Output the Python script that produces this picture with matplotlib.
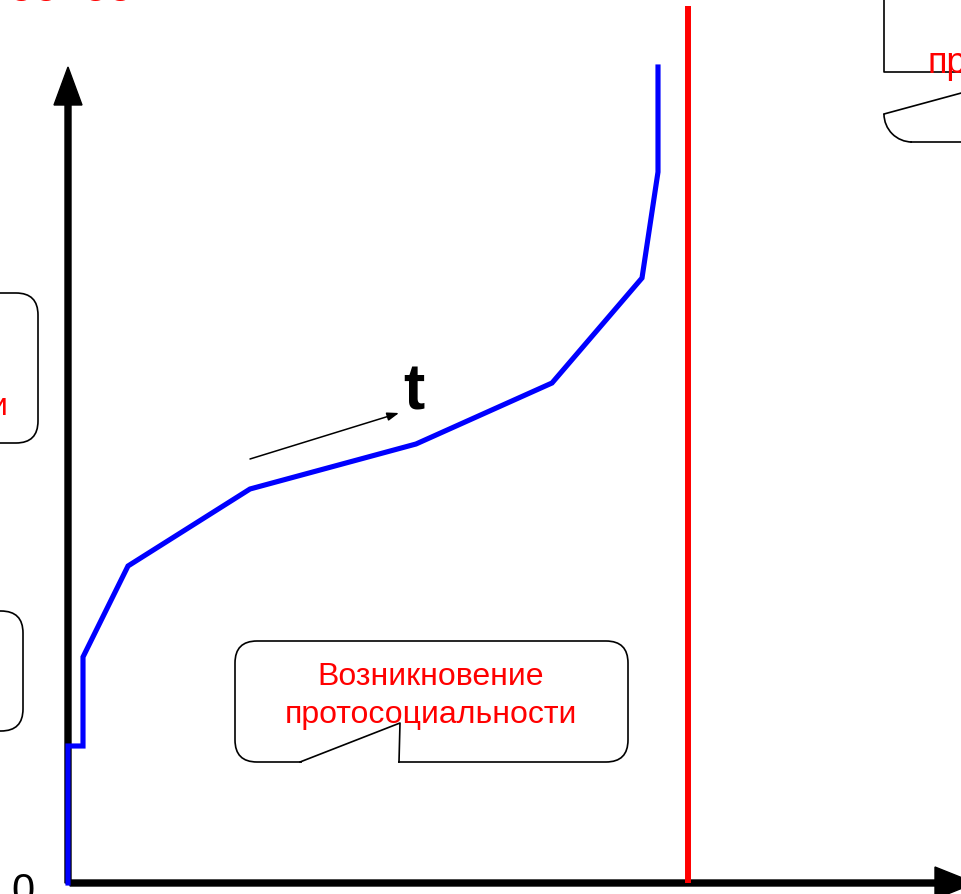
"""Схема: возникновение протосоциальности (воспроизведение слайда)."""

import matplotlib.pyplot as plt
from matplotlib.patches import FancyBboxPatch, Arc

plt.rcParams['font.family'] = ['Liberation Sans', 'DejaVu Sans']

# кривая развития (в пикселях от начала координат: вправо / вверх)
curve_t = [0, 0, 15, 15, 60, 182, 348, 484, 574, 590, 590]
curve_level = [0, 137, 137, 226, 317, 394, 439, 500, 605, 711, 816]

# граница (красная вертикаль)
border_t = 620
border_top = 877

box_lines = ["Возникновение", "протосоциальности"]
arrow_label = "t"
origin_label = "0"

W, H = 961, 894
OX, OY = 68, 883


def p(x, y):
    """Пиксели картинки -> координаты осей."""
    return x - OX, OY - y


def main():
    fig = plt.figure(figsize=(W / 100, H / 100), dpi=100)
    ax = fig.add_axes([0, 0, 1, 1])
    ax.set_xlim(-OX, W - OX)
    ax.set_ylim(OY - H, OY)
    ax.axis("off")

    # оси
    ax.arrow(0, 0, 0, 816, width=6, head_width=28, head_length=38,
             length_includes_head=True, color="black", zorder=2)
    ax.arrow(2, 0, 905, 0, width=6, head_width=32, head_length=40,
             length_includes_head=True, color="black", zorder=2)
    ax.text(*p(23, 903), origin_label, fontsize=30, ha="center", va="baseline")

    # кривая
    ax.plot(curve_t, curve_level, color="blue", lw=3.7, zorder=3,
            solid_joinstyle="miter")

    # граница
    ax.plot([border_t, border_t], [0, border_top], color="red", lw=4.3,
            solid_capstyle="butt", zorder=3)

    # стрелка времени
    ax.annotate("", xy=p(399, 413), xytext=p(250, 459),
                arrowprops=dict(arrowstyle="-|>,head_length=0.7,head_width=0.25",
                                color="black", lw=1.1, shrinkA=0, shrinkB=0))
    ax.text(*p(414, 410), arrow_label, fontsize=46, fontweight="bold",
            ha="center", va="baseline")

    # выноска внизу
    x0, y0 = p(235, 762)
    box = FancyBboxPatch((x0, y0), 393, 121,
                         boxstyle="round,pad=0,rounding_size=22",
                         fc="white", ec="black", lw=1.2, zorder=4)
    ax.add_patch(box)
    ax.plot(*zip(p(302, 762), p(398, 762)), color="white", lw=3,
            solid_capstyle="butt", zorder=5)
    tail = [p(300, 762), p(400, 723), p(399, 762)]
    ax.plot(*zip(*tail), color="black", lw=1.2, zorder=6)
    ax.text(*p(431, 685), box_lines[0], fontsize=23, color="red",
            ha="center", va="baseline", zorder=7)
    ax.text(*p(431, 723), box_lines[1], fontsize=23, color="red",
            ha="center", va="baseline", zorder=7)

    # обрезанные выноски слева
    bx, by = p(-60, 443)
    ax.add_patch(FancyBboxPatch((bx, by), 98, 150,
                                boxstyle="round,pad=0,rounding_size=22",
                                fc="none", ec="black", lw=1.2))
    ax.text(*p(8, 415), "и", fontsize=23, color="red", ha="right", va="baseline")
    bx, by = p(-60, 731)
    ax.add_patch(FancyBboxPatch((bx, by), 83, 120,
                                boxstyle="round,pad=0,rounding_size=22",
                                fc="none", ec="black", lw=1.2))

    # обрезанные элементы справа вверху
    ax.plot(*zip(p(884, -5), p(884, 72), p(965, 72)), color="black", lw=1.2)
    ax.text(*p(928, 73), "пр", fontsize=26, color="red", ha="left",
            va="baseline", zorder=7)
    ax.plot(*zip(p(965, 92), p(884, 114)), color="black", lw=1.2)
    cx, cy = p(912, 114)
    ax.add_patch(Arc((cx, cy), 56, 56, theta1=180, theta2=270,
                     color="black", lw=1.2))
    ax.plot(*zip(p(911, 142), p(965, 142)), color="black", lw=1.2)

    # обрезанный заголовок
    ax.text(*p(9, 1), "оо  оо", fontsize=32, color="red", ha="left",
            va="baseline")

    fig.savefig("out.png", dpi=100)
    plt.close(fig)


if __name__ == "__main__":
    main()
